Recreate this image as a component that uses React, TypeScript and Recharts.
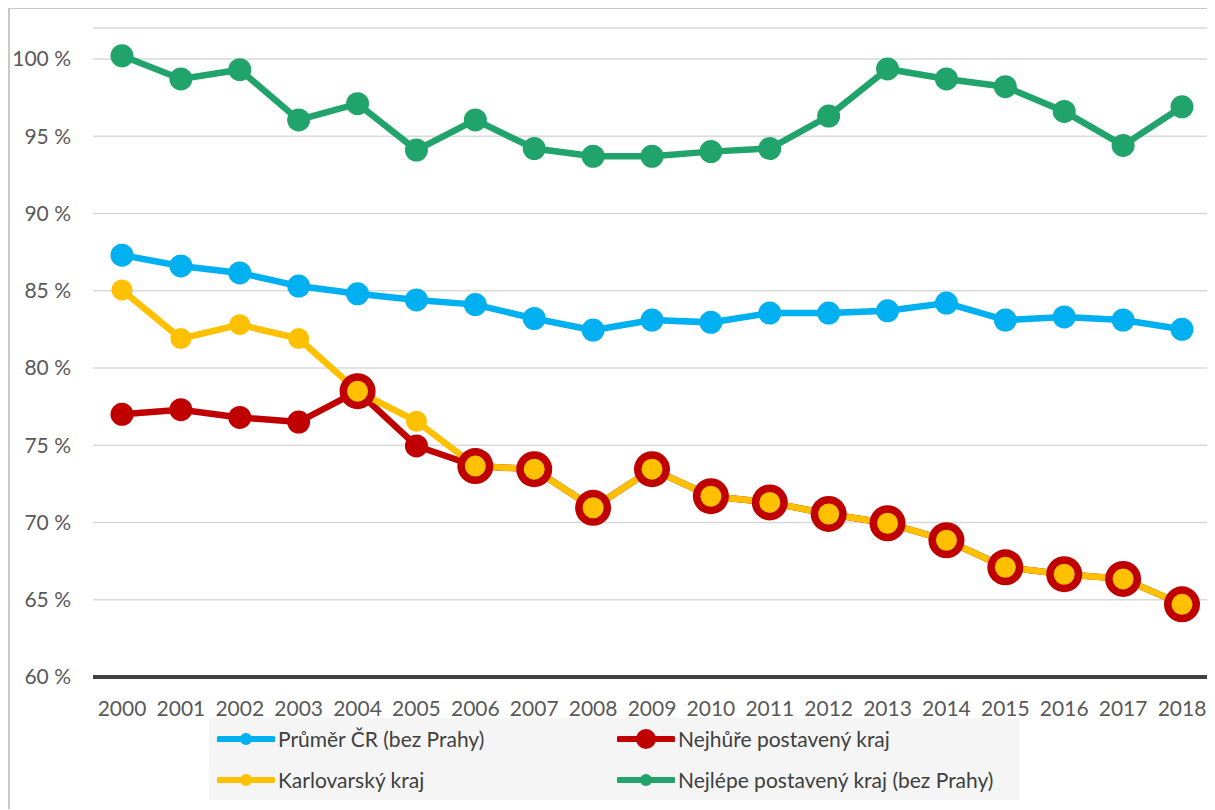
import React from 'react'
import {
  LineChart,
  Line,
  XAxis,
  YAxis,
  CartesianGrid,
  Legend,
} from 'recharts'

const years = [
  '2000', '2001', '2002', '2003', '2004', '2005', '2006', '2007', '2008', '2009',
  '2010', '2011', '2012', '2013', '2014', '2015', '2016', '2017', '2018',
]

const prumerCR = [
  87.3, 86.6, 86.15, 85.3, 84.8, 84.4, 84.1, 83.2, 82.45, 83.1,
  82.95, 83.55, 83.55, 83.7, 84.2, 83.1, 83.3, 83.1, 82.5,
]

const nejlepe = [
  100.2, 98.7, 99.3, 96.05, 97.1, 94.1, 96.05, 94.2, 93.7, 93.7,
  94.0, 94.2, 96.3, 99.35, 98.7, 98.2, 96.6, 94.4, 96.9,
]

const karlovarsky = [
  85.05, 81.9, 82.8, 81.9, 78.5, 76.55, 73.65, 73.45, 70.95, 73.45,
  71.7, 71.3, 70.55, 69.95, 68.85, 67.1, 66.65, 66.35, 64.7,
]

const nejhure = [
  77.0, 77.3, 76.8, 76.5, 78.5, 74.95, 73.65, 73.45, 70.95, 73.45,
  71.7, 71.3, 70.55, 69.95, 68.85, 67.1, 66.65, 66.35, 64.7,
]

const yTicks = [60, 65, 70, 75, 80, 85, 90, 95, 100]

const series = [
  { key: 'prumer', name: 'Průměr ČR (bez Prahy)', color: '#00b0f0' },
  { key: 'nejhure', name: 'Nejhůře postavený kraj', color: '#c00000' },
  { key: 'karlovarsky', name: 'Karlovarský kraj', color: '#ffc000' },
  { key: 'nejlepe', name: 'Nejlépe postavený kraj (bez Prahy)', color: '#21a46c' },
]

const data = years.map((year, i) => ({
  year,
  prumer: prumerCR[i],
  nejlepe: nejlepe[i],
  karlovarsky: karlovarsky[i],
  nejhure: nejhure[i],
}))

const FONT = 'Lato, "Open Sans", sans-serif'

// worst region gets a bigger marker where it is the Karlovy Vary region
const RedDot = (props: any) => {
  const { cx, cy, index } = props
  if (cx == null || cy == null) return null
  const big = nejhure[index] === karlovarsky[index]
  return <circle key={index} cx={cx} cy={cy} r={big ? 18 : 11.5} fill="#c00000" />
}

function LegendBox() {
  return (
    <div
      style={{
        background: '#f5f5f5',
        width: 810,
        height: 82,
        display: 'grid',
        gridTemplateColumns: '400px 410px',
        gridTemplateRows: '41px 41px',
        fontFamily: FONT,
        fontSize: 21,
        color: '#404040',
      }}
    >
      {series.map((s) => (
        <div key={s.key} style={{ display: 'flex', alignItems: 'center', paddingLeft: 8 }}>
          <svg width={58} height={20} style={{ marginRight: 3 }}>
            <line x1={2} y1={10} x2={56} y2={10} stroke={s.color} strokeWidth={6} strokeLinecap="round" />
            <circle cx={29} cy={10} r={s.key === 'nejhure' ? 10 : 6} fill={s.color} />
          </svg>
          <span>{s.name}</span>
        </div>
      ))}
    </div>
  )
}

export default function App() {
  return (
    <div
      style={{
        position: 'relative',
        width: 1207,
        height: 802,
        borderTop: '2px solid #c8c8c8',
        borderLeft: '2px solid #c8c8c8',
        boxSizing: 'border-box',
        marginTop: -1,
      }}
    >
      <LineChart
        width={1205}
        height={800}
        data={data}
        margin={{ top: 21, right: 2, bottom: 90, left: 15 }}
        style={{ position: 'absolute', left: -2, top: -2 }}
      >
        <CartesianGrid vertical={false} stroke="#d9d9d9" strokeWidth={1.5} />
        <XAxis
          dataKey="year"
          tick={{ fill: '#595959', fontSize: 21, fontFamily: FONT }}
          tickLine={false}
          tickMargin={18}
          axisLine={{ stroke: '#404040', strokeWidth: 4 }}
          interval={0}
          height={40}
          padding={{ left: 29, right: 29 }}
        />
        <YAxis
          domain={[60, 102]}
          ticks={yTicks}
          width={70}
          tickFormatter={(v: number) => `${v} %`}
          tick={{ fill: '#595959', fontSize: 21, fontFamily: FONT }}
          tickLine={false}
          tickMargin={16}
          axisLine={false}
        />
        <Legend
          layout="horizontal"
          verticalAlign="middle"
          align="center"
          content={() => <LegendBox />}
          wrapperStyle={{ position: 'absolute', left: 201, top: 711, width: 810, height: 82 }}
        />
        <Line
          dataKey="prumer"
          name="Průměr ČR (bez Prahy)"
          stroke="#00b0f0"
          strokeWidth={6.5}
          dot={{ r: 11.5, fill: '#00b0f0', stroke: 'none' }}
          activeDot={false}
          isAnimationActive={false}
        />
        <Line
          dataKey="nejlepe"
          name="Nejlépe postavený kraj (bez Prahy)"
          stroke="#21a46c"
          strokeWidth={6.5}
          dot={{ r: 11.5, fill: '#21a46c', stroke: 'none' }}
          activeDot={false}
          isAnimationActive={false}
        />
        <Line
          dataKey="nejhure"
          name="Nejhůře postavený kraj"
          stroke="#c00000"
          strokeWidth={6.5}
          dot={<RedDot />}
          activeDot={false}
          isAnimationActive={false}
        />
        <Line
          dataKey="karlovarsky"
          name="Karlovarský kraj"
          stroke="#ffc000"
          strokeWidth={6.5}
          dot={{ r: 10.5, fill: '#ffc000', stroke: 'none' }}
          activeDot={false}
          isAnimationActive={false}
        />
      </LineChart>
    </div>
  )
}
